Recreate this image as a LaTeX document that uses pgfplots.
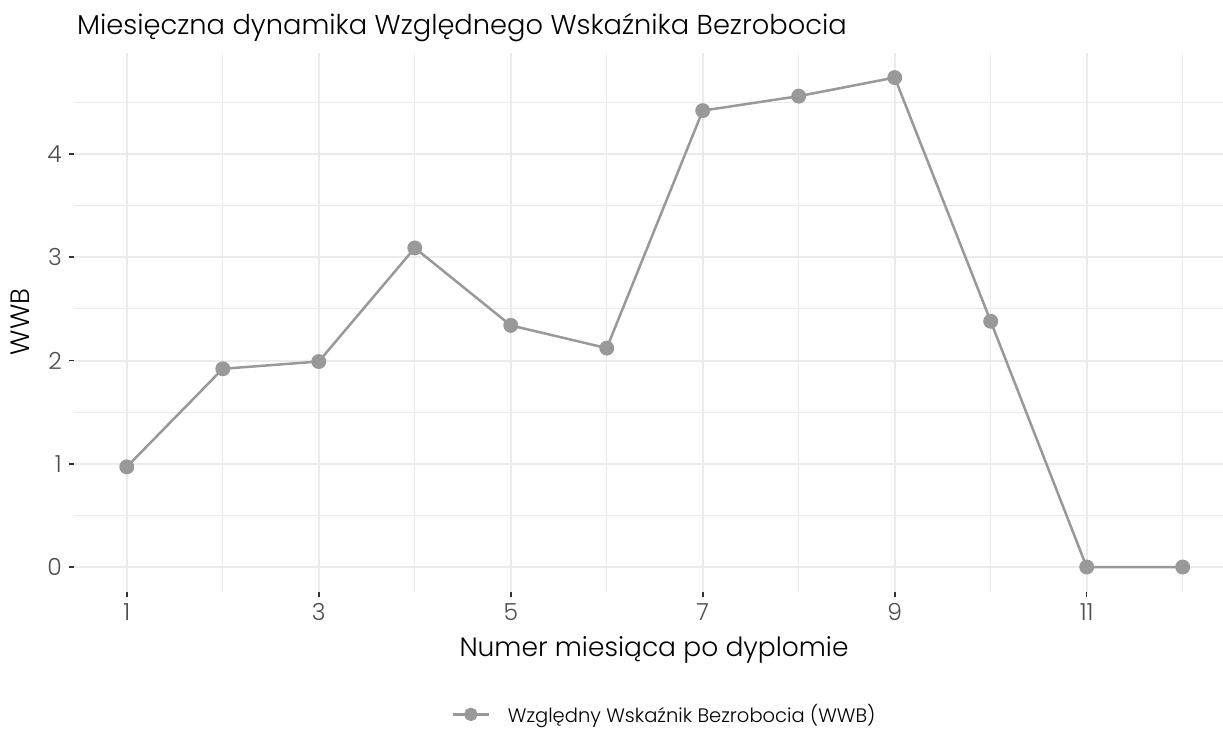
\documentclass[border=0pt]{standalone}
\usepackage{fontspec}
\setmainfont{Poppins Light}
\usepackage{pgfplots}
\pgfplotsset{compat=1.18}
\definecolor{linegray}{HTML}{999999}
\definecolor{gridgray}{HTML}{EBEBEB}
\definecolor{ticktext}{HTML}{4D4D4D}
\definecolor{tickmark}{HTML}{333333}
\begin{document}
\begin{tikzpicture}
\path[use as bounding box] (0,0) rectangle (1223bp,-730bp);
\begin{axis}[
  at={(74bp,-592bp)}, anchor=south west,
  scale only axis, width=1149bp, height=539bp,
  xmin=0.45, xmax=12.42, ymin=-0.242, ymax=4.978,
  xtick={1,3,5,7,9,11}, minor xtick={2,4,6,8,10,12},
  ytick={0,1,2,3,4}, minor ytick={0.5,1.5,2.5,3.5,4.5},
  grid=both,
  major grid style={draw=gridgray, line width=2bp},
  minor grid style={draw=gridgray, line width=1.1bp},
  axis line style={draw=none},
  tick align=outside, xtick pos=bottom, ytick pos=left,
  major tick length=5bp, minor tick length=0pt,
  major tick style={draw=tickmark, line width=1.6bp},
  /pgf/number format/assume math mode=true,
  tick label style={font=\fontsize{23.5bp}{26bp}\selectfont, text=ticktext, inner sep=0pt},
  xticklabel style={yshift=-6bp},
  yticklabel style={xshift=-7bp},
  legend style={at={(axis description cs:0.5135,-0.227)}, anchor=center, draw=none, fill=none,
    inner sep=0pt, nodes={inner sep=1bp},
    font=\fontsize{19.5bp}{22bp}\selectfont, legend cell align=left},
  legend image code/.code={
    \path[draw=none, fill=none] (0bp,-4bp) rectangle (54bp,4bp);
    \draw[linegray, line width=2.5bp] (0bp,0bp) -- (36bp,0bp);
    \fill[linegray] (18bp,0bp) circle (5.5bp);
  },
  clip=false,
]
\addplot[linegray, line width=2.5bp, mark=*, mark size=6.2bp, mark options={fill=linegray, draw=linegray}]
  coordinates {(1,0.97) (2,1.92) (3,1.99) (4,3.09) (5,2.34) (6,2.12) (7,4.42) (8,4.56) (9,4.74) (10,2.38) (11,0) (12,0)};
\addlegendentry{Względny Wskaźnik Bezrobocia (WWB)}
\end{axis}
\node[anchor=west, inner sep=0pt, font=\fontsize{27.3bp}{31bp}\selectfont] at (77bp,-28bp) {Miesięczna dynamika Względnego Wskaźnika Bezrobocia};
\node[inner sep=0pt, font=\fontsize{26.5bp}{30bp}\selectfont, rotate=90] at (20bp,-322bp) {WWB};
\node[inner sep=0pt, font=\fontsize{26.5bp}{30bp}\selectfont] at (654bp,-650bp) {Numer miesiąca po dyplomie};
\end{tikzpicture}
\end{document}
